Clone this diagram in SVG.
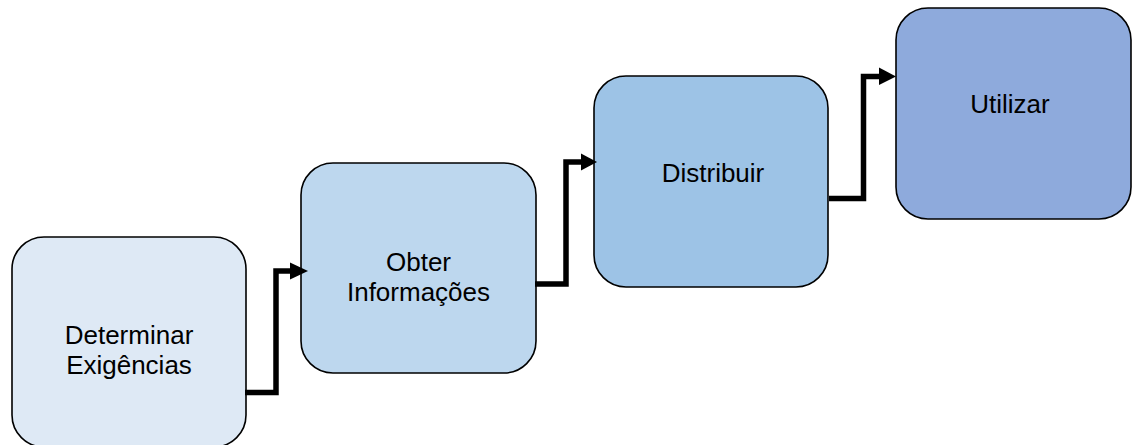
<svg xmlns="http://www.w3.org/2000/svg" width="1133" height="445" viewBox="0 0 1133 445">
<style>
.box{stroke:#000;stroke-width:1.6}
.lbl{font-family:"Liberation Sans",Arial,sans-serif;font-size:26px;fill:#000;text-anchor:middle}
.conn{fill:none;stroke:#000;stroke-width:5.5;stroke-linejoin:miter}
.head{fill:#000}
</style>
<rect width="1133" height="445" fill="#fff"/>
<g id="node1">
<rect class="box" x="12" y="237" width="234" height="210" rx="32" fill="#DEE9F5"/>
<text class="lbl" x="129" y="344">Determinar</text>
<text class="lbl" x="129" y="374">Exigências</text>
</g>
<g id="node2">
<rect class="box" x="301" y="163" width="235" height="210" rx="32" fill="#BDD7EE"/>
<text class="lbl" x="418.5" y="271">Obter</text>
<text class="lbl" x="418.5" y="301">Informações</text>
</g>
<g id="node3">
<rect class="box" x="594" y="76" width="234" height="211" rx="32" fill="#9DC3E6"/>
<text class="lbl" x="713" y="182">Distribuir</text>
</g>
<g id="node4">
<rect class="box" x="896" y="8" width="235" height="211" rx="32" fill="#8EAADC"/>
<text class="lbl" x="1010" y="113">Utilizar</text>
</g>
<g id="connectors">
<path class="conn" d="M245,392.5 H276 V271 H292"/>
<polygon class="head" points="290,262.5 308,271 290,279.5"/>
<path class="conn" d="M535,284 H566 V162 H583"/>
<polygon class="head" points="581,153.5 597,162 581,170.5"/>
<path class="conn" d="M829,198.5 H863.5 V76.5 H881"/>
<polygon class="head" points="879,67.5 896,76.5 879,85"/>
</g>
</svg>
